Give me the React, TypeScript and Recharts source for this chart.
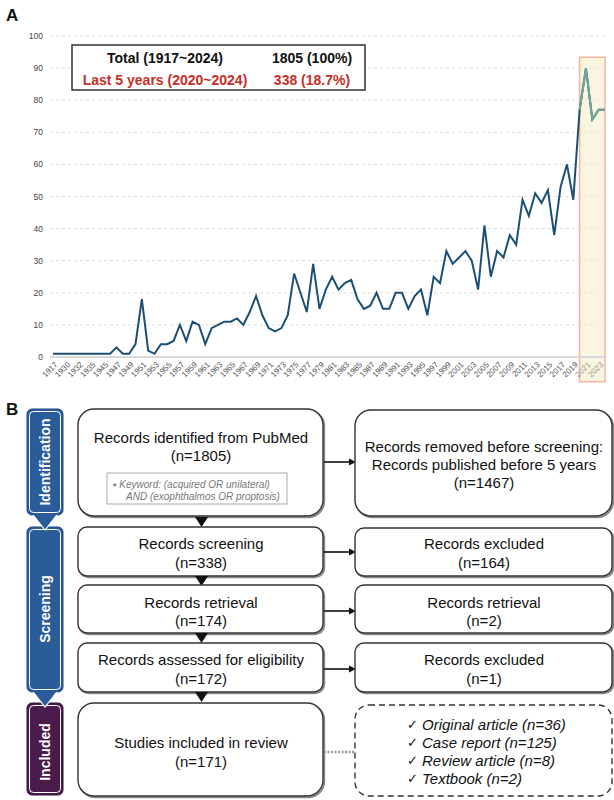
import React from "react";
import { LineChart, Line, XAxis, YAxis, CartesianGrid, ReferenceArea } from "recharts";

// Publication years (category axis) and number of records per year
const years = [
  "1917", "1925", "1930", "1931", "1932", "1933", "1935", "1940", "1945", "1946",
  "1947", "1948", "1949", "1950", "1951", "1952", "1953", "1954", "1955", "1956",
  "1957", "1958", "1959", "1960", "1961", "1962", "1963", "1964", "1965", "1966",
  "1967", "1968", "1969", "1970", "1971", "1972", "1973", "1974", "1975", "1976",
  "1977", "1978", "1979", "1980", "1981", "1982", "1983", "1984", "1985", "1986",
  "1987", "1988", "1989", "1990", "1991", "1992", "1993", "1994", "1995", "1996",
  "1997", "1998", "1999", "2000", "2001", "2002", "2003", "2004", "2005", "2006",
  "2007", "2008", "2009", "2010", "2011", "2012", "2013", "2014", "2015", "2016",
  "2017", "2018", "2019", "2020", "2021", "2022", "2023", "2024",
];

const counts = [
  1, 1, 1, 1, 1, 1, 1, 1, 1, 1,
  3, 1, 1, 4, 18, 2, 1, 4, 4, 5,
  10, 5, 11, 10, 4, 9, 10, 11, 11, 12,
  10, 14, 19, 13, 9, 8, 9, 13, 26, 20,
  14, 29, 15, 21, 25, 21, 23, 24, 18, 15,
  16, 20, 15, 15, 20, 20, 15, 19, 21, 13,
  25, 23, 33, 29, 31, 33, 30, 21, 41, 25,
  33, 31, 38, 35, 49, 44, 51, 48, 52, 38,
  53, 60, 49, 77, 90, 74, 77, 77,
];

const yTicks = [0, 10, 20, 30, 40, 50, 60, 70, 80, 90, 100];

const recentStart = "2020";
const recentEnd = "2024";

const summaryLabels = ["Total (1917~2024)", "Last 5 years (2020~2024)"];
const summaryValues = ["1805 (100%)", "338 (18.7%)"];
const summaryColors = ["#111", "#c62f28"];

const startIdx = years.indexOf(recentStart);
const data = years.map((year, i) => ({
  year,
  count: counts[i],
  // the highlighted window is redrawn in its tinted colour
  recent: i >= startIdx ? counts[i] : null,
}));

const FONT = "'Liberation Sans', Arial, Helvetica, sans-serif";

function YearTick({ x, y, payload }: any) {
  const inWindow = years.indexOf(payload.value) >= startIdx;
  return (
    <g transform={`translate(${x + 3},${y + 2})`}>
      <text
        x={0}
        y={0}
        dy={3}
        textAnchor="end"
        fontSize={8}
        fill={inWindow ? "#9a9a8a" : "#555"}
        fontFamily={FONT}
        transform="rotate(-45)"
      >
        {payload.value}
      </text>
    </g>
  );
}

function TrendChart() {
  return (
    <LineChart
      width={614}
      height={392}
      data={data}
      margin={{ top: 36, right: 7, left: 0, bottom: 5 }}
    >
      <CartesianGrid vertical={false} stroke="#dcdcdc" strokeDasharray="3 3" />
      <XAxis
        dataKey="year"
        interval={1}
        height={30}
        padding={{ left: 3, right: 2 }}
        tickLine={false}
        tickSize={4}
        tickMargin={0}
        axisLine={{ stroke: "#d9d9d9", strokeWidth: 2 }}
        tick={<YearTick />}
      />
      <YAxis
        width={50}
        domain={[0, 100]}
        ticks={yTicks}
        axisLine={false}
        tickLine={false}
        tickMargin={1}
        tick={{ fontSize: 8.5, fill: "#444", fontFamily: FONT }}
      />
      <ReferenceArea
        x1={recentStart}
        x2={recentEnd}
        y1={-7.7}
        y2={93.4}
        ifOverflow="visible"
        fill="#f6efcc"
        fillOpacity={0.6}
        stroke="#f2b59e"
        strokeWidth={1.5}
      />
      <Line
        type="linear"
        dataKey="count"
        stroke="#1c4f73"
        strokeWidth={2}
        dot={false}
        isAnimationActive={false}
      />
      <Line
        type="linear"
        dataKey="recent"
        stroke="#6fa79b"
        strokeWidth={2}
        dot={false}
        connectNulls={false}
        isAnimationActive={false}
      />
    </LineChart>
  );
}

function Shadowed({ x, y, w, h, r }: any) {
  return (
    <g>
      <rect x={x + 1.2} y={y + 1.2} width={w} height={h} rx={r} fill="none" stroke="#888" strokeWidth={2} />
      <rect x={x} y={y} width={w} height={h} rx={r} fill="#fff" stroke="#333" strokeWidth={1.4} />
    </g>
  );
}

function Lines({ cx, ys, lines, size = 15, italic = false, anchor = "middle" }: any) {
  return (
    <g>
      {lines.map((t: string, i: number) => (
        <text
          key={i}
          x={cx}
          y={ys[i]}
          textAnchor={anchor}
          dominantBaseline="central"
          fontSize={size}
          fontStyle={italic ? "italic" : "normal"}
          fill="#111"
          fontFamily={FONT}
        >
          {t}
        </text>
      ))}
    </g>
  );
}

function Arrow({ y }: { y: number }) {
  return (
    <g>
      <line x1={324} y1={y} x2={350} y2={y} stroke="#111" strokeWidth={1.6} />
      <polygon points={`349,${y - 3.5} 356,${y} 349,${y + 3.5}`} fill="#111" />
    </g>
  );
}

function DownTri({ y }: { y: number }) {
  return <polygon points={`195,${y} 208,${y} 201.5,${y + 10}`} fill="#111" />;
}

function Stage({ y, h, fill, edge, label, cy }: any) {
  return (
    <g>
      <rect x={27} y={y} width={36} height={h} rx={5} fill={fill} stroke={edge} strokeWidth={1} />
      <rect x={29.5} y={y + 2.5} width={31} height={h - 5} rx={4} fill="none" stroke="#fff" strokeWidth={1} />
      <text
        x={45}
        y={cy}
        transform={`rotate(-90 45 ${cy})`}
        textAnchor="middle"
        dominantBaseline="central"
        fontSize={14}
        fontWeight="bold"
        fill="#fff"
        fontFamily={FONT}
      >
        {label}
      </text>
    </g>
  );
}

function StageTip({ y, fill }: any) {
  return (
    <g>
      <polygon points={`33,${y} 57,${y} 45,${y + 16}`} fill={fill} />
      <polyline points={`33,${y + 1} 45,${y + 16} 57,${y + 1}`} fill="none" stroke="#fff" strokeWidth={1.2} />
    </g>
  );
}

const checklist = [
  "Original article (n=36)",
  "Case report (n=125)",
  "Review article (n=8)",
  "Textbook (n=2)",
];

function Overlay() {
  return (
    <svg
      width={614}
      height={800}
      style={{ position: "absolute", left: 0, top: 0, pointerEvents: "none" }}
    >
      <text x={6} y={21} fontSize={17} fontWeight="bold" fontFamily={FONT} fill="#111">A</text>
      <text x={6} y={415} fontSize={17} fontWeight="bold" fontFamily={FONT} fill="#111">B</text>

      {/* summary table in panel A */}
      <rect x={72} y={45} width={293} height={45} fill="#fff" stroke="#333" strokeWidth={1.5} />
      {summaryLabels.map((t, i) => (
        <g key={t}>
          <text x={165} y={58 + i * 22} textAnchor="middle" dominantBaseline="central" fontSize={14}
            fontWeight="bold" fill={summaryColors[i]} fontFamily={FONT}>{t}</text>
          <text x={312} y={58 + i * 22} textAnchor="middle" dominantBaseline="central" fontSize={14}
            fontWeight="bold" fill={summaryColors[i]} fontFamily={FONT}>{summaryValues[i]}</text>
        </g>
      ))}

      {/* stage column */}
      <Stage y={703} h={92} fill="#4a1b4b" edge="#36103a" label="Included" cy={752} />
      <Stage y={527} h={165} fill="#2b5c9a" edge="#1d4a85" label="Screening" cy={609} />
      <StageTip y={691} fill="#2b5c9a" />
      <Stage y={409} h={106} fill="#2b5c9a" edge="#1d4a85" label="Identification" cy={462} />
      <StageTip y={514} fill="#2b5c9a" />

      {/* main flow */}
      <Shadowed x={78} y={409} w={245} h={107} r={16} />
      <Lines cx={201} ys={[437, 455]} lines={["Records identified from PubMed", "(n=1805)"]} />
      <rect x={107} y={473} width={180} height={31} fill="#fff" stroke="#aaa" strokeWidth={1} />
      <text x={113} y={484} dominantBaseline="central" fontSize={10} fontStyle="italic" fill="#777" fontFamily={FONT}>
        {"\u25AA  Keyword: (acquired OR unilateral)"}
      </text>
      <text x={126} y={496} dominantBaseline="central" fontSize={10} fontStyle="italic" fill="#777" fontFamily={FONT}>
        AND (exophthalmos OR proptosis)
      </text>
      <DownTri y={517} />

      <Shadowed x={78} y={527} w={245} h={49} r={9} />
      <Lines cx={201} ys={[543, 562]} lines={["Records screening", "(n=338)"]} />
      <DownTri y={576} />

      <Shadowed x={78} y={585} w={245} h={48} r={9} />
      <Lines cx={201} ys={[602, 620]} lines={["Records retrieval", "(n=174)"]} />
      <DownTri y={633} />

      <Shadowed x={78} y={643} w={245} h={49} r={9} />
      <Lines cx={201} ys={[659, 678]} lines={["Records assessed for eligibility", "(n=172)"]} />
      <DownTri y={692} />

      <Shadowed x={78} y={703} w={245} h={93} r={16} />
      <Lines cx={201} ys={[742, 761]} lines={["Studies included in review", "(n=171)"]} />

      {/* side branches */}
      <Arrow y={462} />
      <Shadowed x={355} y={410} w={257} h={106} r={16} />
      <Lines cx={484} ys={[446, 464, 482]} lines={["Records removed before screening:", "Records published before 5 years", "(n=1467)"]} />

      <Arrow y={552} />
      <Shadowed x={355} y={528} w={257} h={48} r={9} />
      <Lines cx={484} ys={[543, 562]} lines={["Records excluded", "(n=164)"]} />

      <Arrow y={611} />
      <Shadowed x={355} y={585} w={257} h={48} r={9} />
      <Lines cx={484} ys={[602, 620]} lines={["Records retrieval", "(n=2)"]} />

      <Arrow y={669} />
      <Shadowed x={355} y={643} w={257} h={49} r={9} />
      <Lines cx={484} ys={[659, 678]} lines={["Records excluded", "(n=1)"]} />

      <line x1={324} y1={752} x2={355} y2={752} stroke="#999" strokeWidth={2.5} strokeDasharray="2 1.5" />
      <rect x={355} y={705} width={257} height={91} rx={14} fill="#fff" stroke="#333" strokeWidth={1.4} strokeDasharray="6 4" />
      {checklist.map((t, i) => (
        <g key={t}>
          <text x={407} y={724 + i * 18} dominantBaseline="central" fontSize={13} fill="#111" fontFamily="'DejaVu Sans', sans-serif">{"\u2713"}</text>
          <text x={422} y={724 + i * 18} dominantBaseline="central" fontSize={15} fontStyle="italic" fill="#111" fontFamily={FONT}>{t}</text>
        </g>
      ))}
    </svg>
  );
}

export default function App() {
  return (
    <div
      style={{
        position: "absolute",
        left: 0,
        top: 0,
        width: 614,
        height: 800,
        background: "#fff",
        fontFamily: FONT,
      }}
    >
      <TrendChart />
      <Overlay />
    </div>
  );
}
